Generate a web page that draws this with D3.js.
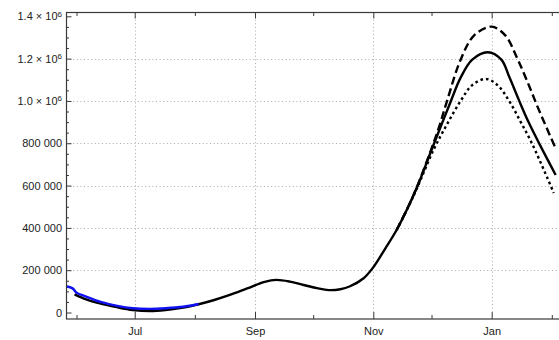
<!DOCTYPE html>
<html>
<head>
<meta charset="utf-8">
<script src="https://cdn.jsdelivr.net/npm/d3@7"></script>
<style>
  body { margin: 0; background: #fff; }
  svg { display: block; }
  text { font-family: "Liberation Sans", Arial, sans-serif; font-size: 11px; fill: #222; }
</style>
</head>
<body>
<svg id="chart" width="559" height="340"></svg>
<script>
// observed series (blue)
var obsDates  = ["2020-05-26","2020-05-30","2020-06-01","2020-06-06","2020-06-13","2020-06-22",
                 "2020-06-30","2020-07-09","2020-07-17","2020-07-26","2020-08-03"];
var obsValues = [125000, 114000, 94000, 75000, 51000, 31000, 20000, 17000, 20000, 27000, 40000];

// central model run (solid)
var midDates  = ["2020-05-31","2020-06-06","2020-06-13","2020-06-21","2020-06-30","2020-07-09",
                 "2020-07-17","2020-07-26","2020-08-03","2020-08-11","2020-08-19","2020-08-28",
                 "2020-09-06","2020-09-12","2020-09-19","2020-09-26","2020-10-03",
                 "2020-10-09","2020-10-15","2020-10-20","2020-10-27","2020-11-01",
                 "2020-11-07","2020-11-13","2020-11-19","2020-11-24","2020-12-01","2020-12-06",
                 "2020-12-11","2020-12-16","2020-12-22","2020-12-30","2021-01-06","2021-01-10",
                 "2021-01-15","2021-01-20","2021-01-26","2021-02-03"];
var midValues = [86000, 62000, 43000, 27000, 12000, 7000,
                 12000, 23000, 39000, 59000, 83000, 114000,
                 145000, 154000, 146000, 130000, 115000,
                 106000, 110000, 124000, 162000, 214000,
                 300000, 390000, 500000, 603000, 768000, 885000,
                 1000000, 1110000, 1195000, 1230000, 1195000, 1115000,
                 1005000, 900000, 790000, 650000];

// upper run (dashed), splits off from the central one in late November
var highDates  = ["2020-11-13","2020-11-19","2020-11-24","2020-12-01","2020-12-05","2020-12-09",
                  "2020-12-16","2020-12-23","2021-01-01","2021-01-08","2021-01-14","2021-01-19",
                  "2021-01-25","2021-02-03"];
var highValues = [390000, 500000, 605000, 775000, 880000, 1000000,
                  1195000, 1310000, 1351000, 1310000, 1205000, 1100000,
                  965000, 775000];

// lower run (dotted)
var lowDates  = ["2020-11-13","2020-11-19","2020-11-24","2020-12-02","2020-12-09","2020-12-16",
                 "2020-12-22","2020-12-29","2021-01-04","2021-01-10","2021-01-16","2021-01-22",
                 "2021-02-02"];
var lowValues = [390000, 498000, 598000, 768000, 890000, 1000000,
                 1075000, 1104000, 1075000, 1000000, 900000, 795000,
                 565000];

var gridY = [200000, 400000, 600000, 800000, 1000000, 1200000];

var parse = d3.timeParse("%Y-%m-%d");
function series(dates, values) {
	return dates.map(function(d, i) { return {date: parse(d), value: values[i]}; });
}

var plotLeft = 66, plotRight = 559, plotTop = 12.5, plotBottom = 319;

var svg = d3.select("#chart");

var xScale = d3.scaleTime()
	.domain([new Date(2020, 4, 26, 14), new Date(2021, 1, 4, 17)])
	.range([plotLeft, plotRight]);

var yScale = d3.scaleLinear()
	.domain([-30700, 1418000])
	.range([plotBottom, plotTop]);

var months = xScale.ticks(d3.timeMonth.every(1));
function labelled(d) { return d.getMonth() % 2 == 0; }  // Jan, Mar, May, Jul, Sep, Nov
function major(v) { return v % 200000 == 0; }

// grid
var grid = svg.append("g")
	.attr("stroke", "#aaa")
	.attr("stroke-width", 1)
	.attr("stroke-dasharray", "1,2.6");

grid.selectAll("line.vx")
	.data(months.filter(labelled))
	.enter().append("line")
	.attr("x1", function(d) { return Math.round(xScale(d)) + 0.5; })
	.attr("x2", function(d) { return Math.round(xScale(d)) + 0.5; })
	.attr("y1", plotTop)
	.attr("y2", plotBottom);

grid.selectAll("line.hy")
	.data(gridY)
	.enter().append("line")
	.attr("x1", plotLeft)
	.attr("x2", plotRight)
	.attr("y1", function(d) { return Math.round(yScale(d)) + 0.5; })
	.attr("y2", function(d) { return Math.round(yScale(d)) + 0.5; });

// curves
svg.append("clipPath").attr("id", "plotclip")
	.append("rect")
	.attr("x", plotLeft).attr("y", plotTop)
	.attr("width", plotRight - plotLeft).attr("height", plotBottom - plotTop);

var line = d3.line()
	.x(function(d) { return xScale(d.date); })
	.y(function(d) { return yScale(d.value); })
	.curve(d3.curveCatmullRom.alpha(0.5));

var curves = svg.append("g").attr("clip-path", "url(#plotclip)")
	.attr("fill", "none")
	.attr("stroke-linecap", "butt");

curves.append("path")
	.attr("d", line(series(highDates, highValues)))
	.attr("stroke", "#000")
	.attr("stroke-width", 2.4)
	.attr("stroke-dasharray", "8,4");

curves.append("path")
	.attr("d", line(series(lowDates, lowValues)))
	.attr("stroke", "#000")
	.attr("stroke-width", 2.4)
	.attr("stroke-dasharray", "2.6,3");

curves.append("path")
	.attr("d", line(series(midDates, midValues)))
	.attr("stroke", "#000")
	.attr("stroke-width", 2.4);

curves.append("path")
	.attr("d", line(series(obsDates, obsValues)))
	.attr("stroke", "#1010f0")
	.attr("stroke-width", 2.4);

// axes, ticks pointing into the frame
var frameColor = "#3a3a3a";

var xAxis = svg.append("g")
	.attr("transform", "translate(0," + plotBottom + ")")
	.call(d3.axisBottom(xScale)
		.tickValues(months)
		.tickSize(-7)
		.tickPadding(8)
		.tickFormat(function(d) { return labelled(d) ? d3.timeFormat("%b")(d) : ""; }));

var xTop = svg.append("g")
	.attr("transform", "translate(0," + plotTop + ")")
	.call(d3.axisTop(xScale)
		.tickValues(months)
		.tickSize(-6)
		.tickFormat(""));

var yTicks = d3.range(0, 1400001, 50000);
var yAxis = svg.append("g")
	.attr("transform", "translate(" + plotLeft + ",0)")
	.call(d3.axisLeft(yScale)
		.tickValues(yTicks)
		.tickSize(-5.5)
		.tickPadding(4)
		.tickFormat(function(d) {
			if (!major(d) || d >= 1000000) return "";
			return d3.format(",")(d).replace(/,/g, " ");
		}));

[xAxis, xTop, yAxis].forEach(function(g) {
	g.select(".domain").remove();
	g.selectAll(".tick line").attr("stroke", frameColor);
	g.attr("font-family", null).attr("font-size", null);
});

xAxis.selectAll(".tick").filter(function(d) { return !labelled(d); })
	.select("line").attr("y2", -4);
xTop.selectAll(".tick").filter(function(d) { return !labelled(d); })
	.select("line").attr("y2", 3.5);
yAxis.selectAll(".tick").filter(function(d) { return !major(d); })
	.select("line").attr("x2", 3);

xAxis.selectAll(".tick text").attr("fill", "#222");
yAxis.selectAll(".tick text").attr("fill", "#222");

// 1.0 × 10^6 style labels
yAxis.selectAll(".tick").filter(function(d) { return major(d) && d >= 1000000; })
	.select("text")
	.each(function(d) {
		var t = d3.select(this);
		t.append("tspan").text(d3.format(".1f")(d / 1e6) + " \u00d7 10");
		t.append("tspan").attr("dy", "-0.45em").attr("font-size", "8px").text("6");
	});

// frame
svg.append("rect")
	.attr("x", plotLeft + 0.5)
	.attr("y", plotTop)
	.attr("width", plotRight - plotLeft + 5)
	.attr("height", plotBottom - plotTop)
	.attr("fill", "none")
	.attr("stroke", frameColor)
	.attr("stroke-width", 1.2);
</script>
</body>
</html>
